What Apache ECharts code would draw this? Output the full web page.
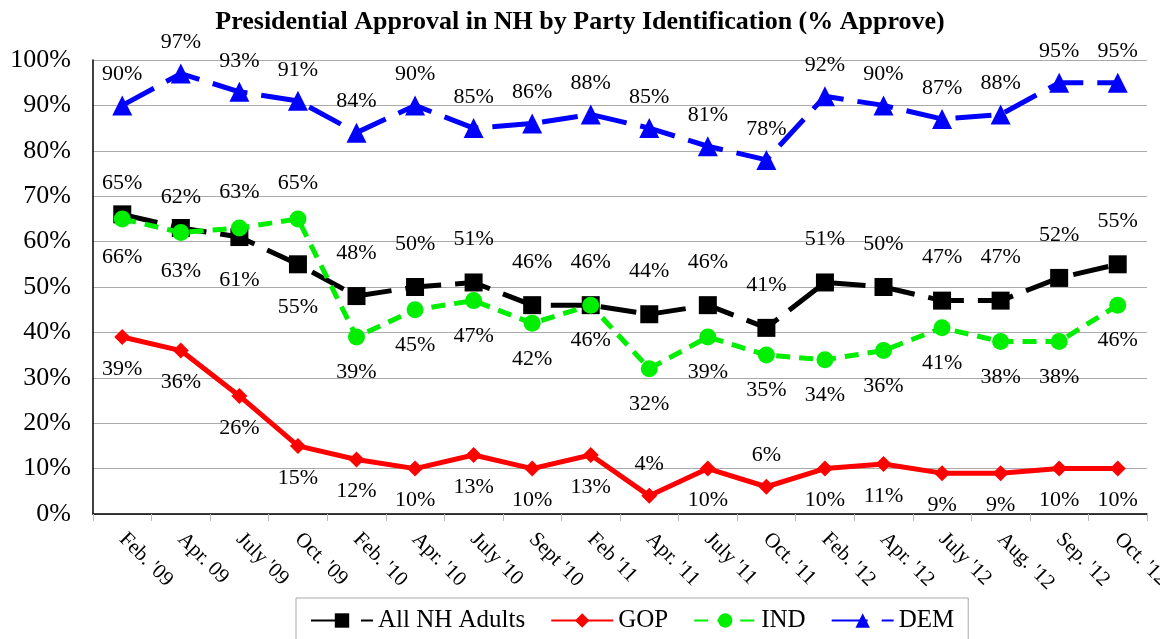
<!DOCTYPE html>
<html><head><meta charset="utf-8">
<script src="https://cdn.jsdelivr.net/npm/echarts@6/dist/echarts.min.js"></script>
<style>html,body{margin:0;padding:0;background:#fff}#c{width:1160px;height:639px}</style>
</head><body><div id="c"></div>
<script>
const categories = ["Feb. '09","Apr. 09","July '09","Oct. '09","Feb. '10","Apr. '10","July '10","Sept '10","Feb '11","Apr. '11","July '11","Oct. '11","Feb. '12","Apr. '12","July '12","Aug. '12","Sep. '12","Oct. '12"];
const allAdults = [66,63,61,55,48,50,51,46,46,44,46,41,51,50,47,47,52,55];
const gop = [39,36,26,15,12,10,13,10,13,4,10,6,10,11,9,9,10,10];
const ind = [65,62,63,65,39,45,47,42,46,32,39,35,34,36,41,38,38,46];
const dem = [90,97,93,91,84,90,85,86,88,85,81,78,92,90,87,88,95,95];
const yTicks = [0,10,20,30,40,50,60,70,80,90,100];

// label placement rules (indices whose label sits on the other side)
const allBelow = [0,1,2,3];
const indAbove = [0,1,2,3];
const gopAbove = [9,11];

const font = "'Liberation Serif','Times New Roman',serif";
function mk(vals, posFn, dist){
  return vals.map((v,i)=>({value:v,label:{position:posFn(i),distance:dist}}));
}
const labelBase = {show:true, formatter:'{c}%', fontFamily:font, fontSize:22, color:'#000'};

const chart = echarts.init(document.getElementById('c'));
chart.setOption({
  animation:false,
  title:{text:'Presidential Approval in NH by Party Identification (% Approve)', left:'center', top:4,
    textStyle:{fontFamily:font,fontWeight:'bold',fontSize:26,color:'#000'}},
  grid:{left:93,right:13,top:60,bottom:125,outerBoundsMode:'none',containLabel:false},
  legend:{bottom:-10,left:296,itemGap:25,itemWidth:62,itemHeight:18,
    borderColor:'#aaa',borderWidth:1,padding:[10,14,16,14],
    textStyle:{fontFamily:font,fontSize:25,color:'#000'},
    data:['All NH Adults','GOP','IND','DEM']},
  xAxis:{type:'category',data:categories,boundaryGap:true,
    axisLine:{lineStyle:{color:'#000',width:1.5}},
    axisTick:{show:true,length:7,lineStyle:{color:'#bbb'}},
    axisLabel:{rotate:-45,fontFamily:font,fontSize:21,color:'#000',margin:22,hideOverlap:false}},
  yAxis:{type:'value',min:yTicks[0],max:yTicks[yTicks.length-1],interval:10,
    axisLine:{show:true,lineStyle:{color:'#000',width:1.5}},
    axisTick:{show:false},
    splitLine:{lineStyle:{color:'#aaa',width:1.2}},
    axisLabel:{formatter:'{value}%',fontFamily:font,fontSize:26,color:'#000',margin:22}},
  series:[
    {name:'DEM',type:'line',data:mk(dem,()=> 'top',10),color:'#0000ff',
      symbol:'triangle',symbolSize:20,lineStyle:{width:5,type:[36,14]},
      label:labelBase,z:4},
    {name:'All NH Adults',type:'line',data:mk(allAdults,i=>allBelow.includes(i)?'bottom':'top',23),color:'#000',
      symbol:'rect',symbolSize:18,lineStyle:{width:5,type:[36,14]},
      label:labelBase,z:3},
    {name:'IND',type:'line',data:mk(ind,i=>indAbove.includes(i)?'top':'bottom',16),color:'#00ee00',
      symbol:'circle',symbolSize:17,lineStyle:{width:5,type:[14,9]},
      label:labelBase,z:5},
    {name:'GOP',type:'line',data:mk(gop,i=>gopAbove.includes(i)?'top':'bottom',13),color:'#ff0000',
      symbol:'diamond',symbolSize:16,lineStyle:{width:5},
      label:labelBase,z:2}
  ]
});
</script></body></html>
